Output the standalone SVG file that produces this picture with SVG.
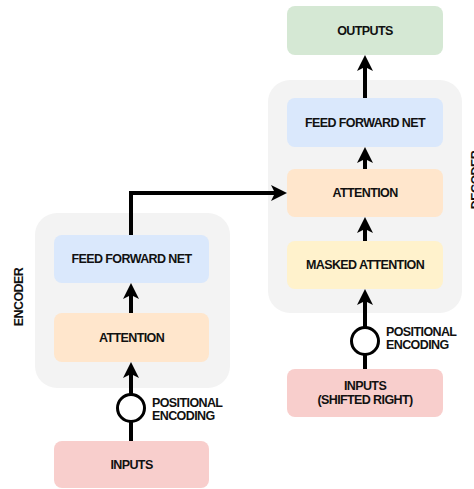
<svg xmlns="http://www.w3.org/2000/svg" width="474" height="489" viewBox="0 0 474 489">
<defs>
<style>
.cont{fill:#f3f3f3;}
.box{stroke:none;}
.t{font-family:"Liberation Sans",Arial,sans-serif;font-weight:bold;font-size:12.5px;letter-spacing:-0.6px;fill:#111;}
.c{text-anchor:middle;dominant-baseline:central;}
.ln{fill:none;stroke:#000;stroke-width:4;}
.pe{fill:#fff;stroke:#000;stroke-width:3;}
</style>
<marker id="arr" viewBox="0 0 16 16" refX="6" refY="8" markerWidth="16" markerHeight="16" markerUnits="userSpaceOnUse" orient="auto">
<path d="M0,0 L16,8 L0,16 L4,8 Z" fill="#000"/>
</marker>
</defs>
<rect width="474" height="489" fill="#fff"/>
<g id="encoder">
<rect class="cont" x="35" y="213" width="195" height="175" rx="22"/>
<text class="t c" transform="translate(19,297) rotate(-90)">ENCODER</text>
</g>
<g id="decoder">
<rect class="cont" x="268" y="80" width="194" height="233" rx="22"/>
<text class="t c" transform="translate(476,180) rotate(-90)">DECODER</text>
</g>
<g id="enc-ffn"><rect class="box" x="54" y="235" width="155" height="48" rx="8" fill="#dae8fc"/><text class="t c" x="131.5" y="259">FEED FORWARD NET</text></g>
<g id="enc-att"><rect class="box" x="54" y="313" width="155" height="49" rx="8" fill="#ffe6cc"/><text class="t c" x="131.5" y="337.5">ATTENTION</text></g>
<g id="enc-inputs"><rect class="box" x="54" y="441" width="155" height="47" rx="8" fill="#f8cecc"/><text class="t c" x="131.5" y="464.5">INPUTS</text></g>
<g id="outputs"><rect class="box" x="287" y="6" width="156" height="49" rx="8" fill="#d5e8d4"/><text class="t c" x="365" y="30.5">OUTPUTS</text></g>
<g id="dec-ffn"><rect class="box" x="287" y="98" width="156" height="49" rx="8" fill="#dae8fc"/><text class="t c" x="365" y="122.5">FEED FORWARD NET</text></g>
<g id="dec-att"><rect class="box" x="287" y="169" width="156" height="48" rx="8" fill="#ffe6cc"/><text class="t c" x="365" y="193">ATTENTION</text></g>
<g id="dec-masked"><rect class="box" x="287" y="241" width="156" height="48" rx="8" fill="#fff2cc"/><text class="t c" x="365" y="265">MASKED ATTENTION</text></g>
<g id="dec-inputs"><rect class="box" x="287" y="369" width="156" height="48" rx="8" fill="#f8cecc"/><text class="t" text-anchor="middle" x="365" y="390">INPUTS</text><text class="t" text-anchor="middle" x="365" y="404">(SHIFTED RIGHT)</text></g>
<g id="connectors">
<path class="ln" d="M131,441 V372" marker-end="url(#arr)"/>
<path class="ln" d="M131,313 V293" marker-end="url(#arr)"/>
<path class="ln" d="M131,235 V193 H277" marker-end="url(#arr)"/>
<path class="ln" d="M365,369 V299" marker-end="url(#arr)"/>
<path class="ln" d="M365,241 V227" marker-end="url(#arr)"/>
<path class="ln" d="M365,169 V157" marker-end="url(#arr)"/>
<path class="ln" d="M365,98 V65" marker-end="url(#arr)"/>
</g>
<g id="enc-pe"><circle class="pe" cx="131" cy="408" r="13.5"/><text class="t" x="152" y="407">POSITIONAL</text><text class="t" x="152" y="420">ENCODING</text></g>
<g id="dec-pe"><circle class="pe" cx="365" cy="341" r="13.5"/><text class="t" x="386" y="336">POSITIONAL</text><text class="t" x="386" y="349">ENCODING</text></g>
</svg>
